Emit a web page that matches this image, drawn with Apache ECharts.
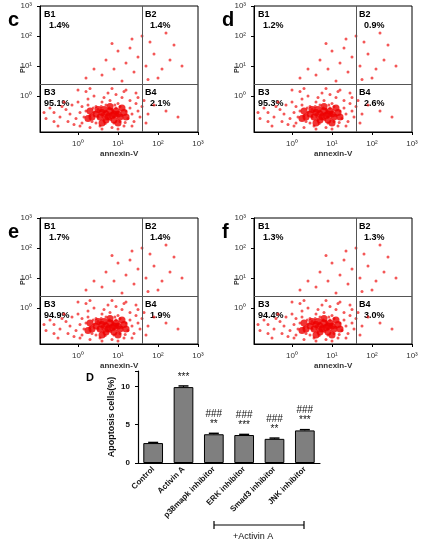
<!DOCTYPE html>
<html><head><meta charset="utf-8">
<script src="https://cdn.jsdelivr.net/npm/echarts@6/dist/echarts.min.js"></script>
<style>html,body{margin:0;background:#fff}#c{width:424px;height:550px}</style>
</head><body><div id="c"></div>
<script>
// flow cytometry panels (values stored as log10 exponents)
const panels = ['c', 'd', 'e', 'f'];
const pctB1 = ['1.4%', '1.2%', '1.7%', '1.3%'];
const pctB2 = ['1.4%', '0.9%', '1.4%', '1.3%'];
const pctB3 = ['95.1%', '95.3%', '94.9%', '94.4%'];
const pctB4 = ['2.1%', '2.6%', '1.9%', '3.0%'];
const xTicks = [0, 1, 2, 3];
const yTicks = [0, 1, 2, 3];

// main cell cloud
const cloud = [
  [0.8,-0.6],[0.7,-0.5],[0.9,-0.7],[0.6,-0.6],[1.0,-0.55],[0.75,-0.75],[0.85,-0.45],[0.55,-0.5],
  [0.95,-0.4],[0.65,-0.8],[1.1,-0.65],[0.5,-0.7],[0.4,-0.55],[1.2,-0.5],[0.3,-0.65],[1.05,-0.85],
  [0.7,-0.3],[0.45,-0.35],[0.9,-0.9],[0.35,-0.85],[1.25,-0.75],[1.3,-0.4],[0.2,-0.5],[0.15,-0.7],
  [0.6,-0.2],[0.8,-0.15],[1.0,-0.25],[0.25,-0.3],[1.35,-0.6],[1.4,-0.85],[0.05,-0.55],[-0.05,-0.75],
  [0.1,-0.35],[-0.2,-0.6],[-0.3,-0.45],[-0.45,-0.7],[-0.6,-0.55],[0.55,-1.0],[0.85,-1.05],[1.15,-1.0],
  [0.4,0.0],[0.75,0.1],[1.1,-0.05],[1.45,-0.25],[1.5,-0.5],[1.55,-0.7],[0.0,-0.2],[-0.1,-0.95],
  [0.3,-1.05],[1.3,-0.15],[0.65,-0.05],[0.95,0.05],[0.2,0.15],[1.2,0.2],[-0.35,-0.2],[-0.7,-0.4],
  [0.5,-0.45],[0.72,-0.62],[0.88,-0.52],[0.62,-0.68],[0.78,-0.4],[0.98,-0.62],[0.58,-0.35],[0.82,-0.78],
  [1.05,-0.35],[0.45,-0.9],[0.68,-0.92],[1.18,-0.88],[0.38,-0.4],[0.92,-0.3],[1.6,-0.35],[1.75,-0.6],
  [1.9,-0.3],[2.2,-0.5],[1.7,-0.9],[-0.8,-0.75],[-0.5,-1.0],[0.0,0.2],[1.45,0.1],[2.5,-0.7],
  [-0.25,-0.85],[-0.15,-0.3],[0.1,-0.9],[0.25,-0.1],[1.35,-1.0],[1.0,-1.1],[0.6,-1.1],[-0.4,-0.35],
  [1.5,-0.05],[0.3,0.25],[0.85,0.25],[1.15,0.15],[-0.6,-0.85],[-0.85,-0.55],[1.65,-0.15],[0.05,-1.0]
];
// dense core of the cloud
const core = [
  [0.7,-0.6],[0.8,-0.5],[0.9,-0.6],[0.6,-0.55],[0.75,-0.7],[0.85,-0.65],[1.0,-0.6],[0.65,-0.45],
  [0.95,-0.5],[0.55,-0.7],[1.05,-0.7],[0.7,-0.8],[0.9,-0.8],[0.45,-0.6],[1.15,-0.55],[0.8,-0.35],
  [0.5,-0.45],[1.1,-0.4],[0.35,-0.7],[1.2,-0.7],[0.6,-0.9],[1.0,-0.9],[0.3,-0.5],[0.25,-0.75]
];
// apoptotic / dead cells, upper quadrants
const upper = [
  [0.6,0.7],[0.9,0.9],[1.2,1.1],[1.0,1.5],[1.4,0.8],[1.3,1.6],[0.7,1.2],[1.5,1.3],
  [1.7,1.0],[1.9,1.4],[2.1,0.9],[1.8,1.8],[2.3,1.2],[2.0,0.6],[1.1,0.5],[0.4,0.9],
  [1.6,2.0],[2.4,1.7],[1.35,1.9],[0.85,1.75],[2.2,2.1],[1.75,0.55],[2.6,1.0],[0.2,0.6]
];
// apoptosis bar chart
const groups = ['Control', 'Activin A', 'p38mapk inhibitor', 'ERK inhibitor', 'Smad3 inhibitor', 'JNK inhibitor'];
const apoptosis = [2.6, 9.9, 3.75, 3.65, 3.15, 4.25];
const apoErr = [0.08, 0.15, 0.12, 0.08, 0.1, 0.1];
const marks = ['', '***', '###\n**', '###\n***', '###\n**', '###\n***'];

const sup = {0: '⁰', 1: '¹', 2: '²', 3: '³'};
const pos = [[40, 6], [254, 6], [40, 218], [254, 218]];
const W = 158, H = 126, XMIN = -0.95, YMIN = -1.2, QX = 1.6, QY = 0.4;

const chart = echarts.init(document.getElementById('c'));
const grid = [], xAxis = [], yAxis = [], series = [], graphic = [];
const lbl = {color: '#333', fontSize: 9, fontWeight: 'bold', fontFamily: 'Arial'};

panels.forEach((p, i) => {
  const [l, t] = pos[i];
  grid.push({left: l, top: t, width: W, height: H, show: false});
  xAxis.push({gridIndex: i, type: 'value', min: XMIN, max: 3,
    axisLine: {onZero: false, lineStyle: {color: '#000'}}, splitLine: {show: false},
    axisTick: {customValues: xTicks, length: 3},
    axisLabel: {customValues: xTicks, fontSize: 8, color: '#333', formatter: v => '10' + sup[v]}});
  yAxis.push({gridIndex: i, type: 'value', min: YMIN, max: 3,
    axisLine: {onZero: false, lineStyle: {color: '#000'}}, splitLine: {show: false},
    axisTick: {customValues: yTicks, length: 3},
    axisLabel: {customValues: yTicks, fontSize: 8, color: '#333', formatter: v => '10' + sup[v]}});
  series.push({type: 'scatter', xAxisIndex: i, yAxisIndex: i, symbolSize: 3, silent: true,
    itemStyle: {color: '#f01010', opacity: 0.7}, data: cloud.concat(upper),
    markLine: {silent: true, symbol: 'none', label: {show: false}, lineStyle: {color: '#555', type: 'solid', width: 1},
      data: [{xAxis: QX}, {yAxis: QY}]}});
  series.push({type: 'scatter', xAxisIndex: i, yAxisIndex: i, symbolSize: 7, silent: true,
    itemStyle: {color: '#ee0000', opacity: 0.8}, data: core});
  graphic.push({type: 'rect', shape: {x: l, y: t, width: W, height: H}, style: {fill: 'none', stroke: '#000', lineWidth: 1}});
  const qx = l + (QX - XMIN) / (3 - XMIN) * W, qy = t + (3 - QY) / (3 - YMIN) * H;
  graphic.push(
    {type: 'text', left: l - 32, top: t + 4, style: {text: p, font: 'bold 20px Arial', fill: '#000'}},
    {type: 'text', left: l + 4, top: t + 3, style: Object.assign({text: 'B1\n  ' + pctB1[i], lineHeight: 11}, lbl)},
    {type: 'text', left: qx + 3, top: t + 3, style: Object.assign({text: 'B2\n  ' + pctB2[i], lineHeight: 11}, lbl)},
    {type: 'text', left: l + 4, top: qy + 3, style: Object.assign({text: 'B3\n' + pctB3[i], lineHeight: 11}, lbl)},
    {type: 'text', left: qx + 3, top: qy + 3, style: Object.assign({text: 'B4\n  ' + pctB4[i], lineHeight: 11}, lbl)},
    {type: 'text', left: l + 60, top: t + H + 18, style: {text: 'annexin-V', font: 'bold 8px Arial', fill: '#333'}},
    {type: 'text', x: l - 20, y: t + H / 2 + 4, rotation: Math.PI / 2, style: {text: 'PI', font: 'bold 7px Arial', fill: '#333'}}
  );
});

// bar chart
grid.push({left: 138, top: 371, width: 182, height: 92, show: false});
xAxis.push({gridIndex: 4, type: 'category', data: groups,
  axisLine: {lineStyle: {color: '#000', width: 1.2}}, axisTick: {show: false},
  axisLabel: {rotate: 45, interval: 0, fontSize: 8, fontWeight: 'bold', color: '#111', fontFamily: 'Arial', margin: 5}});
yAxis.push({gridIndex: 4, type: 'value', min: 0, max: 12, interval: 5,
  name: 'Apoptosis cells(%)', nameLocation: 'middle', nameGap: 22,
  nameTextStyle: {fontSize: 9, fontWeight: 'bold', color: '#111'},
  axisLine: {show: true, lineStyle: {color: '#000', width: 1.2}}, axisTick: {show: true, length: 3},
  splitLine: {show: false}, axisLabel: {fontSize: 8, fontWeight: 'bold', color: '#111', customValues: [0, 5, 10]}});
series.push({type: 'bar', xAxisIndex: 4, yAxisIndex: 4, barWidth: '65%', data: apoptosis,
  itemStyle: {color: '#7f7f7f', borderColor: '#000', borderWidth: 1},
  label: {show: true, position: 'top', distance: 5, fontSize: 10, color: '#111', lineHeight: 10,
    formatter: p => marks[p.dataIndex]}});
series.push({type: 'custom', xAxisIndex: 4, yAxisIndex: 4, silent: true, z: 5,
  data: apoptosis.map((v, i) => [i, v + apoErr[i], v]),
  renderItem: (params, api) => {
    const top = api.coord([api.value(0), api.value(1)]);
    const mid = api.coord([api.value(0), api.value(2)]);
    return {type: 'group', children: [
      {type: 'line', shape: {x1: top[0], y1: top[1], x2: mid[0], y2: mid[1]}, style: {stroke: '#000', lineWidth: 1}},
      {type: 'line', shape: {x1: top[0] - 5, y1: top[1], x2: top[0] + 5, y2: top[1]}, style: {stroke: '#000', lineWidth: 1.5}}
    ]};
  }});
graphic.push(
  {type: 'text', left: 86, top: 372, style: {text: 'D', font: 'bold 11px Arial', fill: '#000'}},
  {type: 'line', shape: {x1: 214, y1: 525, x2: 304, y2: 525}, style: {stroke: '#000', lineWidth: 1.2}},
  {type: 'line', shape: {x1: 214, y1: 521, x2: 214, y2: 529}, style: {stroke: '#000', lineWidth: 1.2}},
  {type: 'line', shape: {x1: 304, y1: 521, x2: 304, y2: 529}, style: {stroke: '#000', lineWidth: 1.2}},
  {type: 'text', left: 233, top: 532, style: {text: '+Activin A', font: '9px Arial', fill: '#111'}}
);

chart.setOption({animation: false, grid, xAxis, yAxis, series, graphic});
</script></body></html>
